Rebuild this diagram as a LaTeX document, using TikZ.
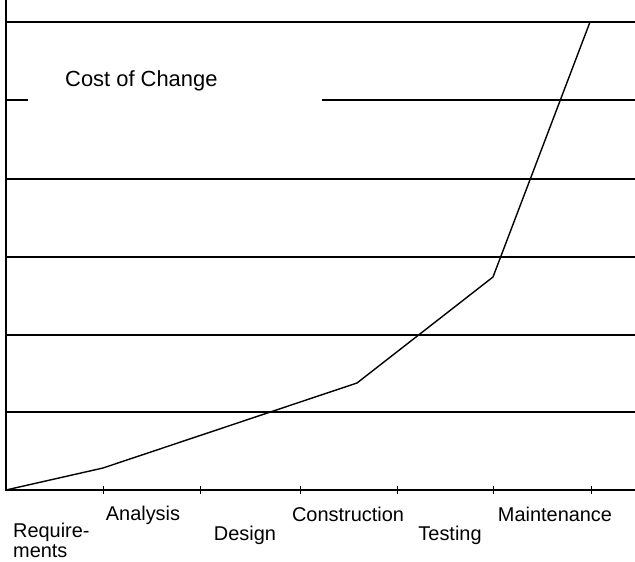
\documentclass[tikz,border=0pt]{standalone}
\usepackage{fontspec}
\setmainfont{Liberation Sans}
\begin{document}
\begin{tikzpicture}[x=1bp,y=-1bp,
    gridline/.style={line width=1.6bp},
    phase/.style={anchor=base,inner sep=0pt,font=\fontsize{20}{20}\selectfont}]
        \useasboundingbox (0,0) rectangle (635,562); % page size
        \draw[gridline] (6,0) -- (6,490) -- (635,490); % axes
        \foreach \y in {22,179,257,335,412} {
            \draw[gridline] (6,\y) -- (635,\y); % grid lines
        }
        \draw[gridline] (6,100) -- (28,100); % grid line, left piece
        \draw[gridline] (322,100) -- (635,100); % grid line, right piece
        \foreach \x in {103,200,300,397,493,591} {
            \draw[line width=0.8bp] (\x,486) -- (\x,494); % draws ticks
        }
        \node[anchor=base west,inner sep=0pt,font=\fontsize{22}{22}\selectfont] (title) at (65,87) {Cost of Change};
        % the curve
        \coordinate (req) at (6,490);
        \coordinate (ana) at (103,468);
        \coordinate (con) at (357,383);
        \coordinate (tst) at (493,277);
        \coordinate (mnt) at (590,22);
        \draw[line width=1.4bp,line join=round] (req) -- (ana) -- (con) -- (tst) -- (mnt);
        % phase names
        \node[phase,anchor=base west] (require) at (13,537) {Require-};
        \node[phase,anchor=base west] (ments) at (13,557) {ments};
        \node[phase] (analysis) at (143,520) {Analysis};
        \node[phase] (design) at (245,540) {Design};
        \node[phase] (construction) at (348,521) {Construction};
        \node[phase] (testing) at (450,540) {Testing};
        \node[phase] (maintenance) at (555,521) {Maintenance};
    \end{tikzpicture}
\end{document}
